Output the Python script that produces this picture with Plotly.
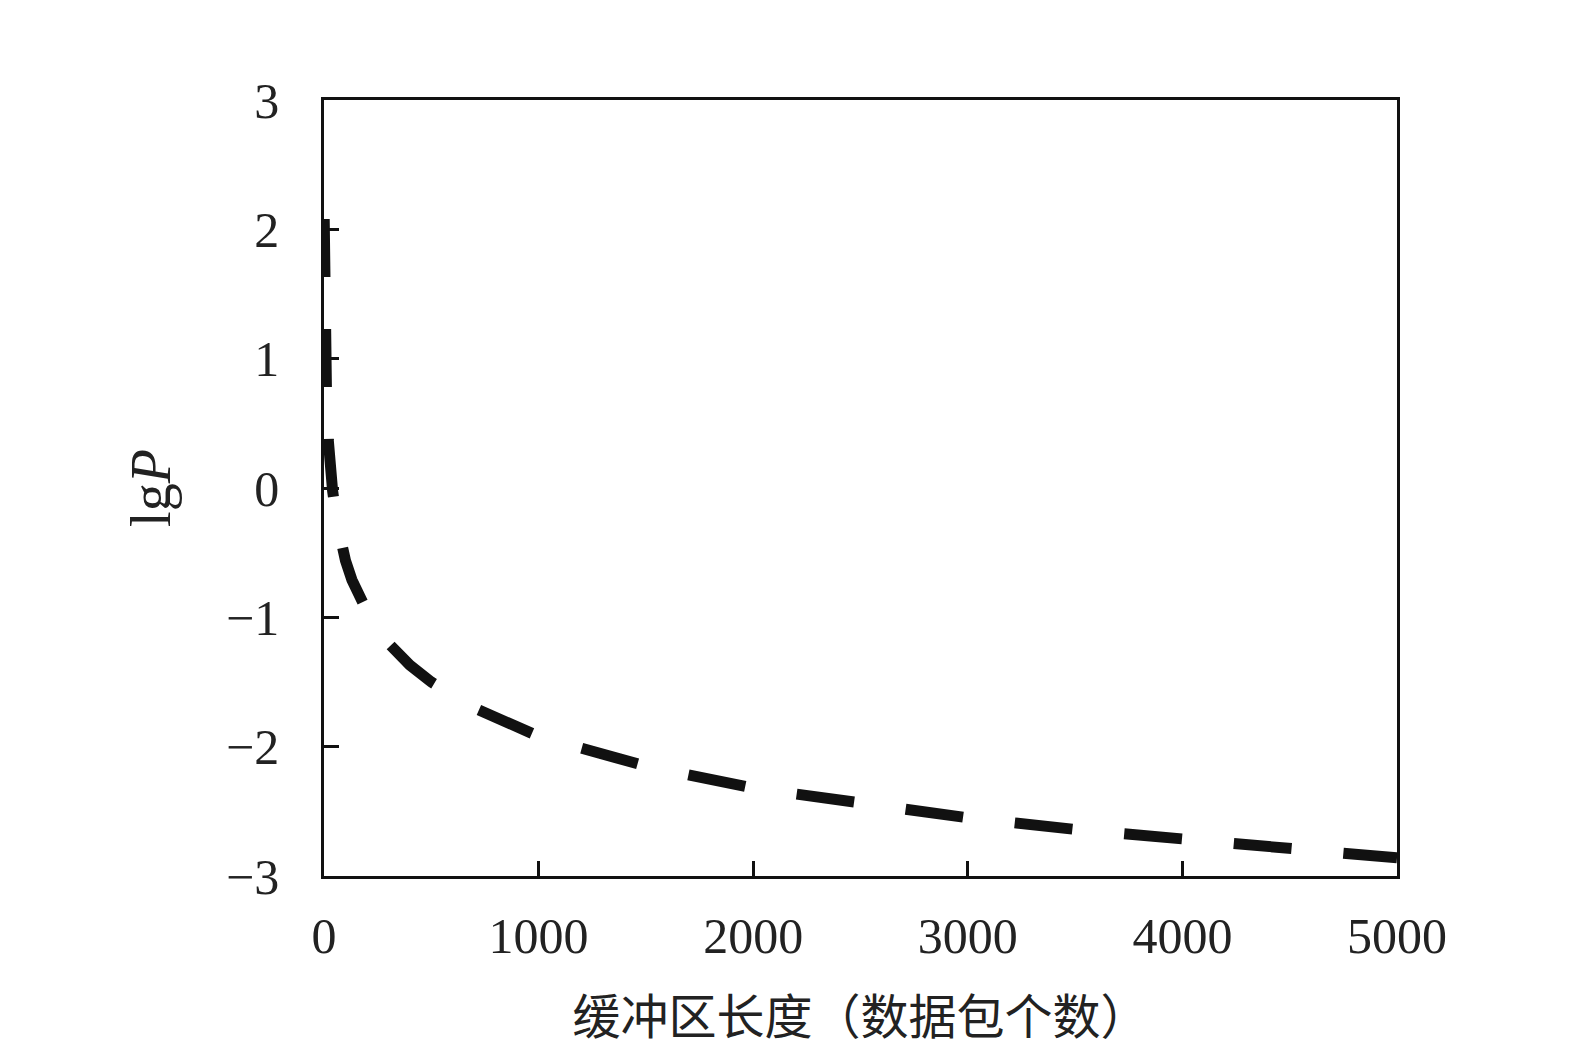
import plotly.graph_objects as go

# buffer length (packets) vs lg P
buf_len = [1, 2, 3, 5, 8, 12, 20, 30, 40, 60, 80, 100, 130, 170, 220, 300, 400, 500,
           700, 1000, 1500, 2000, 2500, 3000, 3500, 4000, 4500, 5000]
lg_p = [2.08, 1.72, 1.48, 1.2, 0.92, 0.68, 0.37, 0.13, -0.02, -0.26, -0.43, -0.56, -0.71,
        -0.87, -1.02, -1.2, -1.37, -1.5, -1.7, -1.92, -2.15, -2.32, -2.44, -2.55, -2.64,
        -2.72, -2.8, -2.86]

x_ticks = [0, 1000, 2000, 3000, 4000, 5000]
y_ticks = [-3, -2, -1, 0, 1, 2, 3]

FONT = "Liberation Serif, Times New Roman, Noto Sans CJK SC, serif"

fig = go.Figure()
fig.add_trace(go.Scatter(x=buf_len, y=lg_p, mode="lines",
                         line=dict(color="#111111", width=11, dash="58px,52px"),
                         showlegend=False))

axis_common = dict(showline=True, linecolor="#111111", linewidth=2.5, mirror=True,
                   ticks="inside", ticklen=15, tickwidth=2.5, tickcolor="#111111",
                   showgrid=False, zeroline=False,
                   tickfont=dict(family=FONT, size=50, color="#222222"))

fig.update_xaxes(range=[0, 5000], tickvals=x_ticks, ticklabelstandoff=14,
                 title=dict(text="缓冲区长度（数据包个数）", standoff=38,
                            font=dict(family=FONT, size=48, color="#222222")),
                 **axis_common)
fig.update_yaxes(range=[-3, 3], tickvals=y_ticks, ticklabelstandoff=32,
                 title=dict(text="lg<i>P</i>", standoff=38,
                            font=dict(family=FONT, size=56, color="#222222")),
                 **axis_common)

fig.update_layout(width=1575, height=1051, plot_bgcolor="white", paper_bgcolor="white",
                  margin=dict(l=316, r=186, t=92, b=183, autoexpand=False))

fig.write_html("out.html")
